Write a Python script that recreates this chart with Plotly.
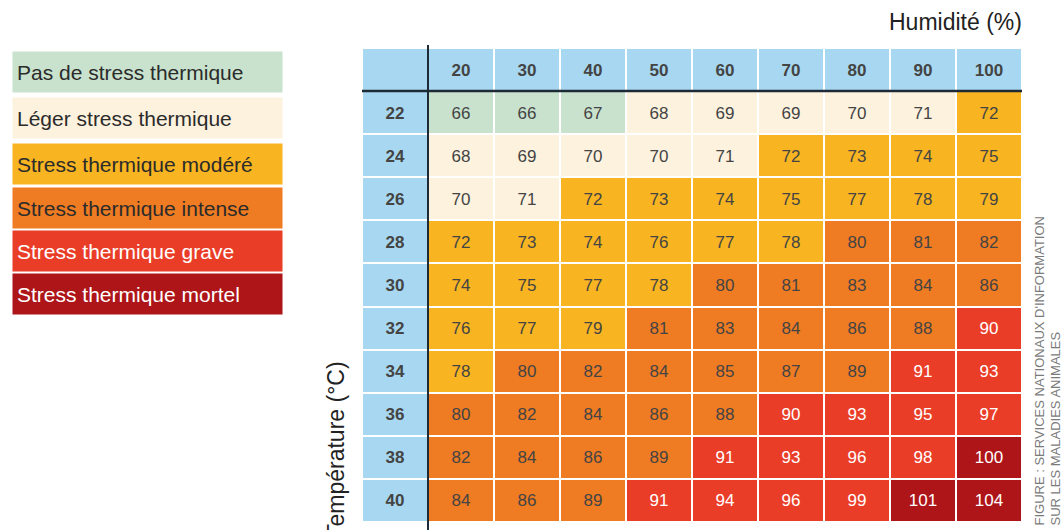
import plotly.graph_objects as go

# ---- data ----
humidity = [20, 30, 40, 50, 60, 70, 80, 90, 100]
temperature = [22, 24, 26, 28, 30, 32, 34, 36, 38, 40]
thi = [
    [66, 66, 67, 68, 69, 69, 70, 71, 72],
    [68, 69, 70, 70, 71, 72, 73, 74, 75],
    [70, 71, 72, 73, 74, 75, 77, 78, 79],
    [72, 73, 74, 76, 77, 78, 80, 81, 82],
    [74, 75, 77, 78, 80, 81, 83, 84, 86],
    [76, 77, 79, 81, 83, 84, 86, 88, 90],
    [78, 80, 82, 84, 85, 87, 89, 91, 93],
    [80, 82, 84, 86, 88, 90, 93, 95, 97],
    [82, 84, 86, 89, 91, 93, 96, 98, 100],
    [84, 86, 89, 91, 94, 96, 99, 101, 104],
]
class_labels = ["Pas de stress thermique", "Léger stress thermique", "Stress thermique modéré",
                "Stress thermique intense", "Stress thermique grave", "Stress thermique mortel"]
class_lower = [68, 72, 80, 90, 100]  # lower bounds of classes 1..5
class_colors = ["#c8e2cd", "#fdf2de", "#f8b421", "#ef7b22", "#ea3d28", "#ae1519"]
header_color = "#a8d8f1"
legend_text_colors = ["#2b2b2b", "#2b2b2b", "#2b2b2b", "#2b2b2b", "#ffffff", "#ffffff"]


def category(v):
    c = 0
    for b in class_lower:
        if v >= b:
            c += 1
    return c


# build grid including header row / column
n_cols = len(humidity) + 1
n_rows = len(temperature) + 1
z = [[6] * n_cols]
text = [[""] + ["<b>%d</b>" % h for h in humidity]]
for t, row in zip(temperature, thi):
    z.append([6] + [category(v) for v in row])
    text.append(["<b>%d</b>" % t] + [str(v) for v in row])

all_colors = class_colors + [header_color]
ncat = len(all_colors)
colorscale = []
for i, c in enumerate(all_colors):
    colorscale.append([i / ncat, c])
    colorscale.append([(i + 1) / ncat, c])

fig = go.Figure()
fig.add_trace(go.Heatmap(
    z=z, x=list(range(n_cols)), y=list(range(n_rows)),
    text=text, texttemplate="%{text}",
    textfont=dict(family="Liberation Sans Narrow, Arial Narrow, Liberation Sans, Arial", size=17),
    colorscale=colorscale, zmin=-0.5, zmax=ncat - 0.5,
    showscale=False, xgap=2, ygap=2, hoverinfo="skip",
))

W, H = 1063, 530
x0, x1 = 362, 1022
y0, y1 = 48, 522
fig.update_layout(
    width=W, height=H,
    margin=dict(l=0, r=0, t=0, b=0),
    paper_bgcolor="white", plot_bgcolor="white",
    xaxis=dict(domain=[x0 / W, x1 / W], range=[-0.5, n_cols - 0.5],
               showticklabels=False, showgrid=False, zeroline=False, fixedrange=True),
    yaxis=dict(domain=[(H - y1) / H, (H - y0) / H], range=[n_rows - 0.5, -0.5],
               showticklabels=False, showgrid=False, zeroline=False, fixedrange=True),
    font=dict(family="Liberation Sans, Arial, sans-serif"),
)

# separator lines
fig.add_shape(type="line", xref="x", yref="paper", x0=0.5, x1=0.5,
              y0=(H - y1) / H - 0.02, y1=(H - 45) / H, line=dict(color="#1e2a36", width=2))
fig.add_shape(type="line", xref="x", yref="y", x0=-0.5, x1=n_cols - 0.5, y0=0.5, y1=0.5,
              line=dict(color="#1e2a36", width=2.5))

# axis titles
fig.add_annotation(text="Humidité (%)", xref="paper", yref="paper",
                   x=1024 / W, y=(H - 22) / H, xanchor="right", yanchor="middle",
                   showarrow=False, font=dict(size=23, color="#222"))
fig.add_annotation(text="Température (°C)", xref="paper", yref="paper",
                   x=336 / W, y=(H - 450) / H, xanchor="center", yanchor="middle",
                   textangle=-90, showarrow=False, font=dict(size=23, color="#222"))

# legend boxes
legend_centers = [72, 118, 164, 208, 251, 294]
for lab, col, tc, cy in zip(class_labels, class_colors, legend_text_colors, legend_centers):
    fig.add_annotation(text=lab, xref="paper", yref="paper", x=12 / W, y=(H - cy) / H,
                       xanchor="left", yanchor="middle", showarrow=False, align="left",
                       width=261, height=32, bgcolor=col, borderpad=4,
                       font=dict(size=21, color=tc))

# source
fig.add_annotation(text="FIGURE : SERVICES NATIONAUX D'INFORMATION<br>SUR LES MALADIES ANIMALES",
                   xref="paper", yref="paper", x=1047 / W, y=(H - 528) / H,
                   xanchor="center", yanchor="bottom", textangle=-90, align="left",
                   showarrow=False, font=dict(size=13, color="#7a7a7a"))

fig.write_html("out.html", config={"displayModeBar": False},
               post_script="document.body.style.margin='0';document.body.style.overflow='hidden';")
